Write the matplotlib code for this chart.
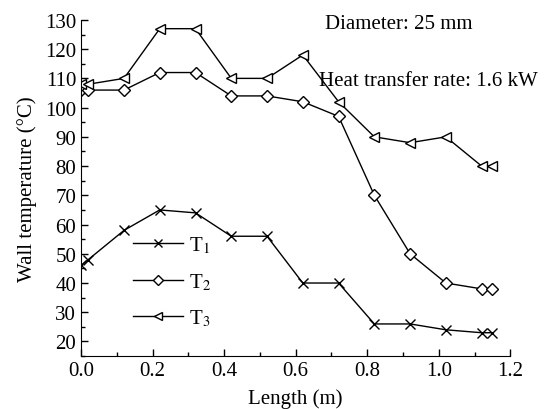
import matplotlib.pyplot as plt
from matplotlib.ticker import MultipleLocator

plt.rcParams['font.family'] = 'Liberation Serif'
plt.rcParams['mathtext.fontset'] = 'stix'

length = [0, 0.02, 0.12, 0.22, 0.32, 0.42, 0.52, 0.62, 0.72, 0.82, 0.92, 1.02, 1.12, 1.15]
t1 = [46, 48, 58, 65, 64, 56, 56, 40, 40, 26, 26, 24, 23, 23]
t2 = [106, 106, 106, 112, 112, 104, 104, 102, 97, 70, 50, 40, 38, 38]
t3 = [108, 108, 110, 127, 127, 110, 110, 118, 102, 90, 88, 90, 80, 80]

fig = plt.figure(figsize=(5.44, 4.10), dpi=100)
ax = fig.add_axes([0.149, 0.129, 0.789, 0.82])

fs = 15
ax.plot(length, t1, color='black', lw=1, marker='x', ms=7, mew=1, label='T$_1$')
ax.plot(length, t2, color='black', lw=1, marker='D', ms=6.5, mfc='white', mew=1, label='T$_2$')
ax.plot(length, t3, color='black', lw=1, marker='<', ms=7.5, mfc='white', mew=1, label='T$_3$')

ax.set_xlim(0, 1.2)
ax.set_ylim(15, 130)
ax.xaxis.set_major_locator(MultipleLocator(0.2))
ax.xaxis.set_minor_locator(MultipleLocator(0.1))
ax.yaxis.set_major_locator(MultipleLocator(10))
ax.yaxis.set_minor_locator(MultipleLocator(5))
ax.tick_params(which='both', direction='in', labelsize=fs, width=1)
ax.tick_params(which='major', length=5)
ax.tick_params(which='minor', length=3)
ax.spines['top'].set_visible(False)
ax.spines['right'].set_visible(False)

ax.set_xlabel('Length (m)', fontsize=fs, labelpad=6)
ax.set_ylabel('Wall temperature (°C)', fontsize=fs, labelpad=6)

ax.text(0.569, 0.988, 'Diameter: 25 mm', transform=ax.transAxes, fontsize=fs, va='center')
ax.text(0.555, 0.82, 'Heat transfer rate: 1.6 kW', transform=ax.transAxes, fontsize=fs,
        va='center', clip_on=False)

ax.legend(loc='upper left', bbox_to_anchor=(0.121, 0.36), frameon=False, fontsize=fs,
          borderaxespad=0, borderpad=0, handlelength=2.4, handletextpad=0.3,
          labelspacing=0.75, markerscale=0.8)

fig.savefig('out.png', dpi=100)
